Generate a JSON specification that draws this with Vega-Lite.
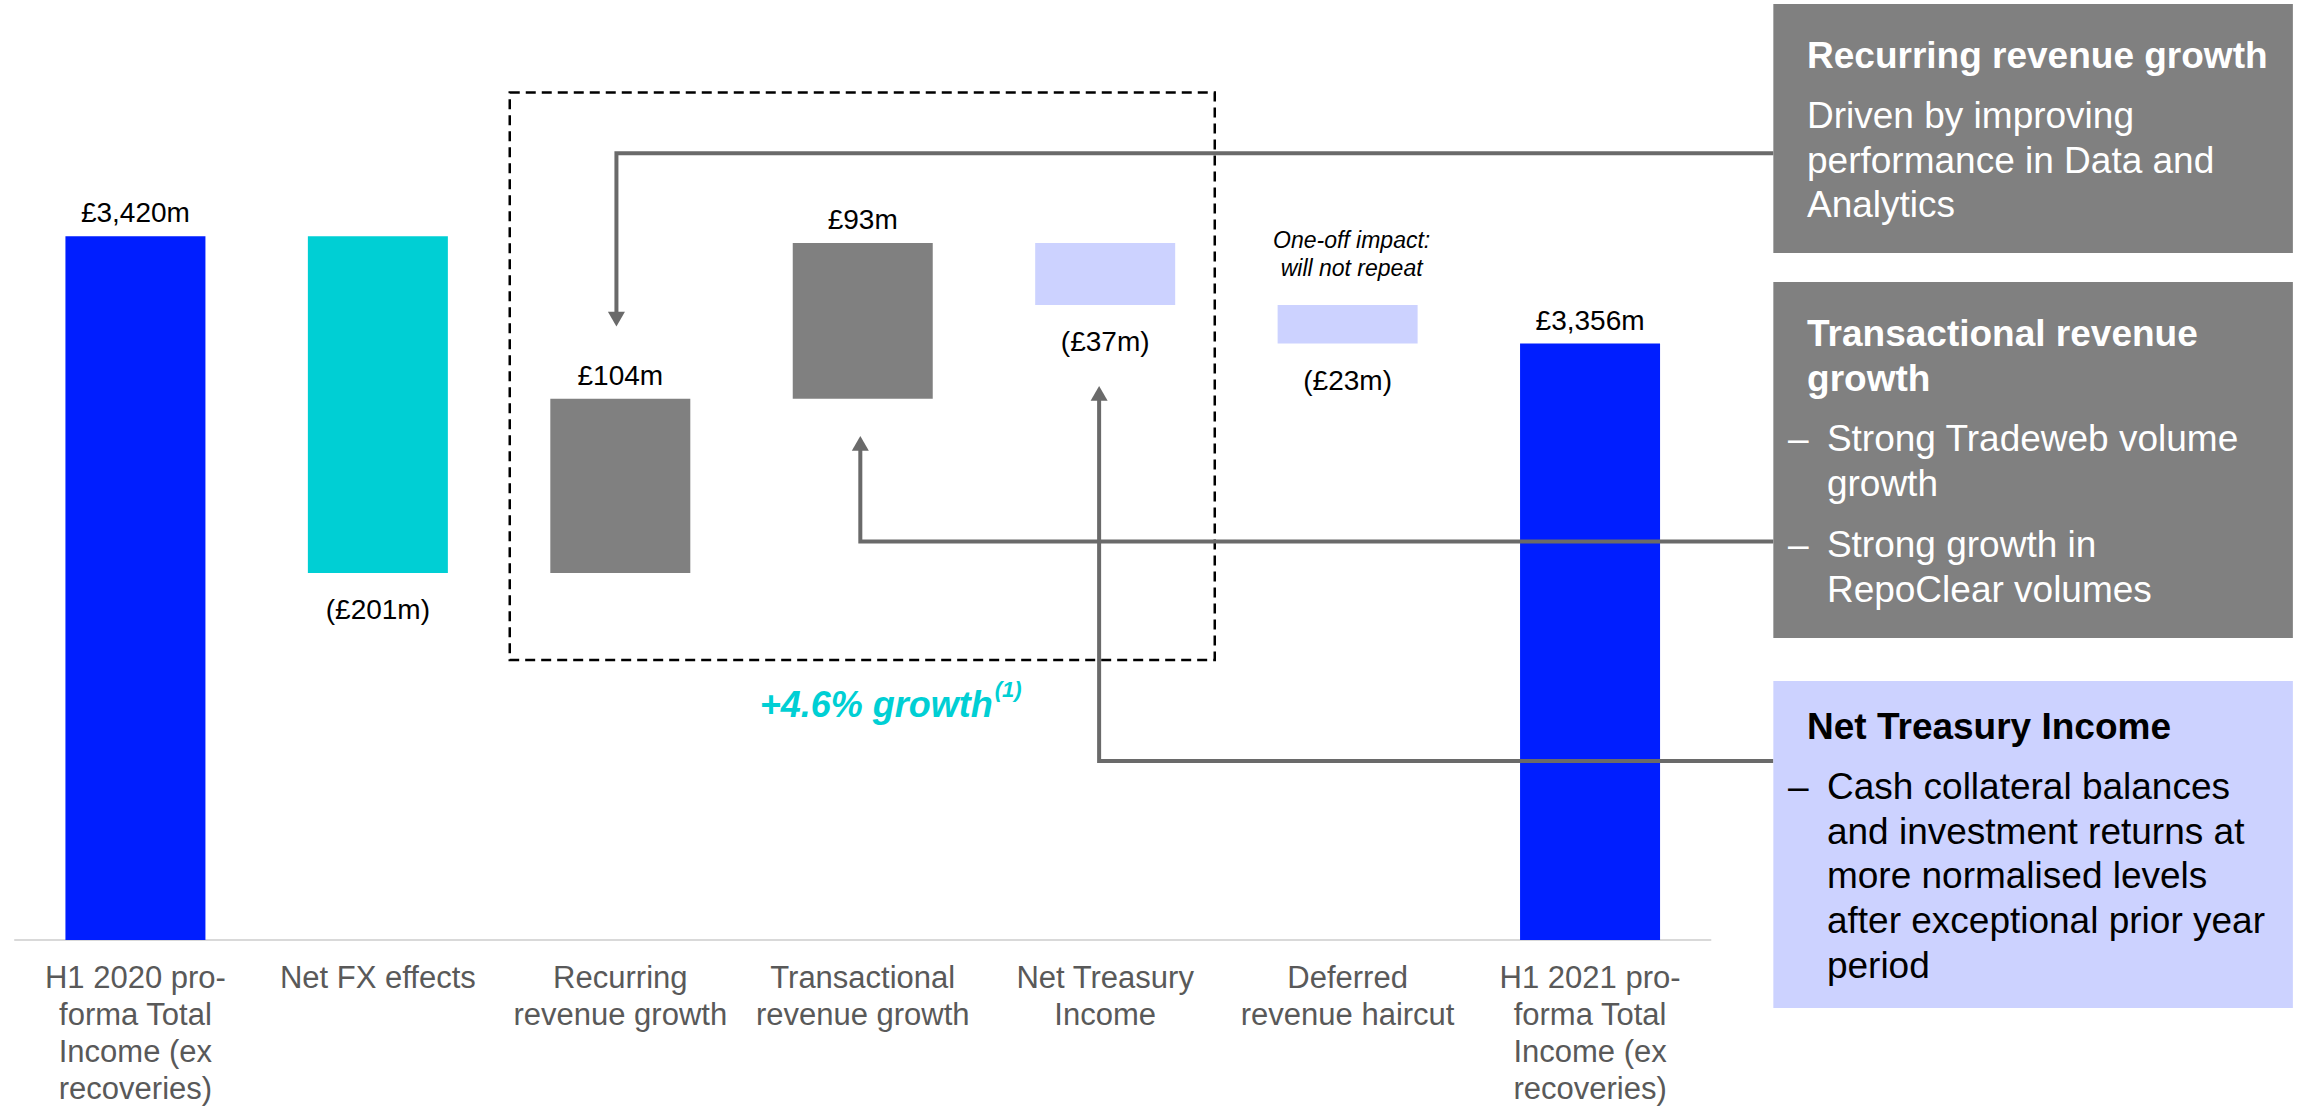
{
  "$schema": "https://vega.github.io/schema/vega-lite/v6.json",
  "width": 2310,
  "height": 1106,
  "autosize": {"type": "none"},
  "padding": 0,
  "background": "#ffffff",
  "config": {"view": {"stroke": null}, "font": "Liberation Sans"},
  "datasets": {
    "bars": [
      {"step": 1, "category": "H1 2020 pro-|forma Total|Income (ex|recoveries)", "kind": "Total", "start": 3000, "end": 3420, "label": "£3,420m"},
      {"step": 2, "category": "Net FX effects", "kind": "FX", "start": 3420, "end": 3219, "label": "(£201m)"},
      {"step": 3, "category": "Recurring|revenue growth", "kind": "Growth", "start": 3219, "end": 3323, "label": "£104m"},
      {"step": 4, "category": "Transactional|revenue growth", "kind": "Growth", "start": 3323, "end": 3416, "label": "£93m"},
      {"step": 5, "category": "Net Treasury|Income", "kind": "Headwind", "start": 3416, "end": 3379, "label": "(£37m)"},
      {"step": 6, "category": "Deferred|revenue haircut", "kind": "Headwind", "start": 3379, "end": 3356, "label": "(£23m)", "note": "One-off impact:\nwill not repeat"},
      {"step": 7, "category": "H1 2021 pro-|forma Total|Income (ex|recoveries)", "kind": "Total", "start": 3000, "end": 3356, "label": "£3,356m"}
    ],
    "arrows": [
      {"arrow": "recurring", "order": 1, "x": 7.756, "y": 3469.5},
      {"arrow": "recurring", "order": 2, "x": 2.984, "y": 3469.5},
      {"arrow": "recurring", "order": 3, "x": 2.984, "y": 3374.8},
      {"arrow": "transactional", "order": 1, "x": 7.756, "y": 3237.9},
      {"arrow": "transactional", "order": 2, "x": 3.99, "y": 3237.9},
      {"arrow": "transactional", "order": 3, "x": 3.99, "y": 3292.5},
      {"arrow": "treasury", "order": 1, "x": 7.756, "y": 3106.9},
      {"arrow": "treasury", "order": 2, "x": 4.975, "y": 3106.9},
      {"arrow": "treasury", "order": 3, "x": 4.975, "y": 3322.3}
    ],
    "heads": [
      {"arrow": "recurring", "dir": "down", "x": 2.984, "y": 3370.6},
      {"arrow": "transactional", "dir": "up", "x": 3.99, "y": 3296.4},
      {"arrow": "treasury", "dir": "up", "x": 4.975, "y": 3326.2}
    ],
    "boxes": [
      {"box": "recurring", "x": 7.756, "x2": 9.899, "top": 3558.6, "bottom": 3410.0},
      {"box": "transactional", "x": 7.756, "x2": 9.899, "top": 3392.7, "bottom": 3180.3},
      {"box": "treasury", "x": 7.756, "x2": 9.899, "top": 3154.6, "bottom": 2959.5}
    ],
    "titles": [
      {"box": "recurring", "x": 7.895, "y": 3520.4, "text": "Recurring revenue growth"},
      {"box": "transactional", "x": 7.895, "y": 3354.5, "text": "Transactional revenue\ngrowth"},
      {"box": "treasury", "x": 7.895, "y": 3120.0, "text": "Net Treasury Income"}
    ],
    "bodies": [
      {"box": "recurring", "x": 7.895, "y": 3484.6, "text": "Driven by improving\nperformance in Data and\nAnalytics"},
      {"box": "transactional", "x": 7.817, "y": 3291.6, "text": "–"},
      {"box": "transactional", "x": 7.977, "y": 3291.6, "text": "Strong Tradeweb volume\ngrowth"},
      {"box": "transactional", "x": 7.817, "y": 3228.6, "text": "–"},
      {"box": "transactional", "x": 7.977, "y": 3228.6, "text": "Strong growth in\nRepoClear volumes"},
      {"box": "treasury", "x": 7.817, "y": 3084.2, "text": "–"},
      {"box": "treasury", "x": 7.977, "y": 3084.2, "text": "Cash collateral balances\nand investment returns at\nmore normalised levels\nafter exceptional prior year\nperiod"}
    ]
  },
  "layer": [
    {
      "data": {"values": [{"from": 0.5, "to": 7.5, "level": 3000}]},
      "mark": {"type": "rule", "color": "#D9D9D9", "strokeWidth": 2},
      "encoding": {
        "x": {"field": "from", "type": "quantitative", "scale": {"domain": [0.462, 9.949], "nice": false, "zero": false}, "axis": null},
        "x2": {"field": "to"},
        "y": {"field": "level", "type": "quantitative", "scale": {"domain": [2901, 3561], "nice": false, "zero": false}, "axis": null}
      }
    },
    {
      "data": {"values": [{"left": 2.544, "right": 5.452, "top": 3505.8, "bottom": 3167.2}]},
      "mark": {"type": "rect", "filled": false, "stroke": "#000000", "strokeWidth": 2.5, "strokeDash": [10, 6]},
      "encoding": {
        "x": {"field": "left", "type": "quantitative", "scale": {"domain": [0.462, 9.949], "nice": false, "zero": false}, "axis": null},
        "x2": {"field": "right"},
        "y": {"field": "top", "type": "quantitative", "scale": {"domain": [2901, 3561], "nice": false, "zero": false}, "axis": null},
        "y2": {"field": "bottom"}
      }
    },
    {
      "data": {"name": "bars"},
      "mark": {"type": "bar", "width": 140},
      "encoding": {
        "x": {"field": "step", "type": "quantitative", "scale": {"domain": [0.462, 9.949], "nice": false, "zero": false}, "axis": null},
        "y": {"field": "start", "type": "quantitative", "scale": {"domain": [2901, 3561], "nice": false, "zero": false}, "axis": null},
        "y2": {"field": "end"},
        "color": {"field": "kind", "type": "nominal", "scale": {"domain": ["Total", "FX", "Growth", "Headwind"], "range": ["#001EFF", "#00CFD4", "#808080", "#CCD2FF"]}, "legend": null}
      }
    },
    {
      "data": {"name": "bars"},
      "transform": [{"filter": "datum.end > datum.start"}],
      "mark": {"type": "text", "fontSize": 28, "color": "#000000", "align": "center", "baseline": "alphabetic", "dy": -14},
      "encoding": {
        "x": {"field": "step", "type": "quantitative", "scale": {"domain": [0.462, 9.949], "nice": false, "zero": false}, "axis": null},
        "y": {"field": "end", "type": "quantitative", "scale": {"domain": [2901, 3561], "nice": false, "zero": false}, "axis": null},
        "text": {"field": "label"}
      }
    },
    {
      "data": {"name": "bars"},
      "transform": [{"filter": "datum.end < datum.start"}],
      "mark": {"type": "text", "fontSize": 28, "color": "#000000", "align": "center", "baseline": "alphabetic", "dy": 46},
      "encoding": {
        "x": {"field": "step", "type": "quantitative", "scale": {"domain": [0.462, 9.949], "nice": false, "zero": false}, "axis": null},
        "y": {"field": "end", "type": "quantitative", "scale": {"domain": [2901, 3561], "nice": false, "zero": false}, "axis": null},
        "text": {"field": "label"}
      }
    },
    {
      "data": {"name": "bars"},
      "transform": [{"filter": "isValid(datum.note)"}],
      "mark": {"type": "text", "fontSize": 23, "fontStyle": "italic", "color": "#000000", "align": "center", "baseline": "alphabetic", "dy": -57, "dx": 4, "lineBreak": "\n", "lineHeight": 28.5},
      "encoding": {
        "x": {"field": "step", "type": "quantitative", "scale": {"domain": [0.462, 9.949], "nice": false, "zero": false}, "axis": null},
        "y": {"field": "start", "type": "quantitative", "scale": {"domain": [2901, 3561], "nice": false, "zero": false}, "axis": null},
        "text": {"field": "note"}
      }
    },
    {
      "data": {"name": "bars"},
      "mark": {"type": "text", "fontSize": 31, "color": "#595959", "align": "center", "baseline": "alphabetic", "dy": 48, "lineBreak": "|", "lineHeight": 37},
      "encoding": {
        "x": {"field": "step", "type": "quantitative", "scale": {"domain": [0.462, 9.949], "nice": false, "zero": false}, "axis": null},
        "y": {"datum": 3000, "type": "quantitative", "scale": {"domain": [2901, 3561], "nice": false, "zero": false}, "axis": null},
        "text": {"field": "category"}
      }
    },
    {
      "data": {"name": "arrows"},
      "mark": {"type": "line", "color": "#6A6A6A", "strokeWidth": 4, "strokeJoin": "miter", "strokeCap": "butt"},
      "encoding": {
        "x": {"field": "x", "type": "quantitative", "scale": {"domain": [0.462, 9.949], "nice": false, "zero": false}, "axis": null},
        "y": {"field": "y", "type": "quantitative", "scale": {"domain": [2901, 3561], "nice": false, "zero": false}, "axis": null},
        "detail": {"field": "arrow"},
        "order": {"field": "order", "type": "quantitative"}
      }
    },
    {
      "data": {"name": "heads"},
      "mark": {"type": "point", "filled": true, "opacity": 1, "size": 290, "color": "#6A6A6A", "strokeWidth": 0},
      "encoding": {
        "x": {"field": "x", "type": "quantitative", "scale": {"domain": [0.462, 9.949], "nice": false, "zero": false}, "axis": null},
        "y": {"field": "y", "type": "quantitative", "scale": {"domain": [2901, 3561], "nice": false, "zero": false}, "axis": null},
        "shape": {"field": "dir", "type": "nominal", "scale": {"domain": ["down", "up"], "range": ["triangle-down", "triangle-up"]}, "legend": null}
      }
    },
    {
      "data": {"name": "boxes"},
      "mark": {"type": "rect"},
      "encoding": {
        "x": {"field": "x", "type": "quantitative", "scale": {"domain": [0.462, 9.949], "nice": false, "zero": false}, "axis": null},
        "x2": {"field": "x2"},
        "y": {"field": "top", "type": "quantitative", "scale": {"domain": [2901, 3561], "nice": false, "zero": false}, "axis": null},
        "y2": {"field": "bottom"},
        "fill": {"condition": {"test": "datum.box === 'treasury'", "value": "#CCD2FF"}, "value": "#808080"}
      }
    },
    {
      "data": {"name": "titles"},
      "mark": {"type": "text", "fontSize": 37, "fontWeight": "bold", "align": "left", "baseline": "alphabetic", "lineBreak": "\n", "lineHeight": 45},
      "encoding": {
        "x": {"field": "x", "type": "quantitative", "scale": {"domain": [0.462, 9.949], "nice": false, "zero": false}, "axis": null},
        "y": {"field": "y", "type": "quantitative", "scale": {"domain": [2901, 3561], "nice": false, "zero": false}, "axis": null},
        "text": {"field": "text"},
        "color": {"condition": {"test": "datum.box === 'treasury'", "value": "#000000"}, "value": "#ffffff"}
      }
    },
    {
      "data": {"name": "bodies"},
      "mark": {"type": "text", "fontSize": 37, "align": "left", "baseline": "alphabetic", "lineBreak": "\n", "lineHeight": 44.7},
      "encoding": {
        "x": {"field": "x", "type": "quantitative", "scale": {"domain": [0.462, 9.949], "nice": false, "zero": false}, "axis": null},
        "y": {"field": "y", "type": "quantitative", "scale": {"domain": [2901, 3561], "nice": false, "zero": false}, "axis": null},
        "text": {"field": "text"},
        "color": {"condition": {"test": "datum.box === 'treasury'", "value": "#000000"}, "value": "#ffffff"}
      }
    },
    {
      "data": {"values": [{"x": 4.536, "y": 3133.2, "text": "+4.6% growth"}]},
      "mark": {"type": "text", "fontSize": 36, "fontWeight": "bold", "fontStyle": "italic", "color": "#00CFD4", "align": "right", "baseline": "alphabetic"},
      "encoding": {
        "x": {"field": "x", "type": "quantitative", "scale": {"domain": [0.462, 9.949], "nice": false, "zero": false}, "axis": null},
        "y": {"field": "y", "type": "quantitative", "scale": {"domain": [2901, 3561], "nice": false, "zero": false}, "axis": null},
        "text": {"field": "text"}
      }
    },
    {
      "data": {"values": [{"x": 4.544, "y": 3145.1, "text": "(1)"}]},
      "mark": {"type": "text", "fontSize": 22, "fontWeight": "bold", "fontStyle": "italic", "color": "#00CFD4", "align": "left", "baseline": "alphabetic"},
      "encoding": {
        "x": {"field": "x", "type": "quantitative", "scale": {"domain": [0.462, 9.949], "nice": false, "zero": false}, "axis": null},
        "y": {"field": "y", "type": "quantitative", "scale": {"domain": [2901, 3561], "nice": false, "zero": false}, "axis": null},
        "text": {"field": "text"}
      }
    }
  ]
}
